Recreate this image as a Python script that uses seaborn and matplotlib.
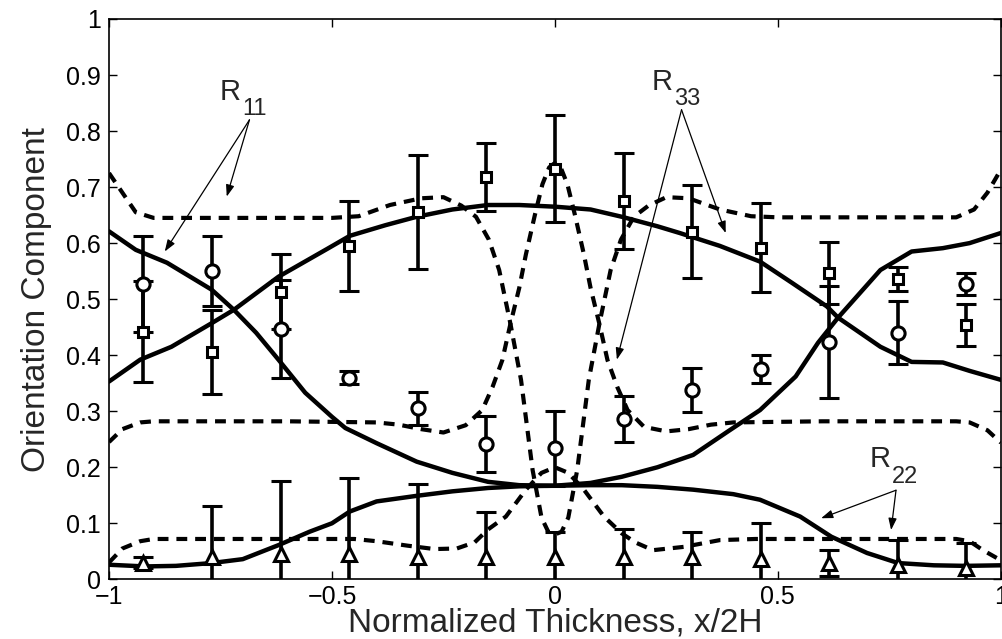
import matplotlib
matplotlib.use("Agg")
import matplotlib.pyplot as plt
import pandas as pd
import seaborn as sns

# measured data points (mean +- error)
x_data = [-0.923, -0.769, -0.615, -0.462, -0.308, -0.154, 0.0,
          0.154, 0.308, 0.462, 0.615, 0.769, 0.923]
r11_data = [0.527, 0.550, 0.447, 0.360, 0.305, 0.242, 0.234,
            0.286, 0.338, 0.375, 0.424, 0.440, 0.527]
r11_err = [0.085, 0.062, 0.087, 0.012, 0.030, 0.050, 0.067,
           0.041, 0.040, 0.025, 0.100, 0.056, 0.020]
r33_data = [0.442, 0.406, 0.513, 0.595, 0.655, 0.718, 0.733,
            0.675, 0.620, 0.592, 0.547, 0.536, 0.454]
r33_err = [0.090, 0.075, 0.067, 0.080, 0.102, 0.060, 0.095,
           0.085, 0.083, 0.080, 0.055, 0.022, 0.038]
r22_data = [0.030, 0.040, 0.045, 0.045, 0.040, 0.040, 0.040,
            0.040, 0.040, 0.036, 0.029, 0.025, 0.020]
r22_err = [0.010, 0.090, 0.130, 0.135, 0.130, 0.080, 0.045,
           0.050, 0.045, 0.065, 0.023, 0.045, 0.045]

# model 1 (solid)
solid_r11_x = [-1.0, -0.94, -0.87, -0.77, -0.72, -0.67, -0.62, -0.56, -0.5, -0.47,
               -0.4, -0.31, -0.23, -0.15, -0.08, 0.0, 0.08, 0.15, 0.23, 0.31,
               0.39, 0.46, 0.54, 0.59, 0.635, 0.73, 0.8, 0.87, 0.93, 1.0]
solid_r11_y = [0.621, 0.588, 0.565, 0.517, 0.481, 0.44, 0.392, 0.333, 0.29, 0.27,
               0.243, 0.21, 0.19, 0.174, 0.168, 0.167, 0.172, 0.183, 0.2, 0.222,
               0.265, 0.302, 0.362, 0.422, 0.467, 0.552, 0.585, 0.591, 0.6, 0.618]
solid_r33_x = [-1.0, -0.93, -0.86, -0.77, -0.72, -0.62, -0.51, -0.46, -0.38, -0.31,
               -0.23, -0.15, -0.08, 0.0, 0.08, 0.15, 0.23, 0.28, 0.37, 0.46,
               0.53, 0.61, 0.635, 0.73, 0.8, 0.87, 0.93, 1.0]
solid_r33_y = [0.353, 0.392, 0.415, 0.457, 0.481, 0.54, 0.59, 0.613, 0.632, 0.647,
               0.66, 0.668, 0.668, 0.665, 0.66, 0.647, 0.63, 0.618, 0.595, 0.567,
               0.53, 0.487, 0.467, 0.415, 0.388, 0.387, 0.372, 0.356]
solid_r22_x = [-1.0, -0.92, -0.85, -0.77, -0.7, -0.62, -0.55, -0.5, -0.46, -0.4,
               -0.31, -0.23, -0.15, -0.08, 0.0, 0.08, 0.15, 0.23, 0.31, 0.4,
               0.46, 0.55, 0.62, 0.7, 0.77, 0.85, 0.92, 1.0]
solid_r22_y = [0.026, 0.023, 0.024, 0.029, 0.036, 0.061, 0.085, 0.1, 0.121, 0.139,
               0.149, 0.157, 0.163, 0.166, 0.167, 0.168, 0.168, 0.165, 0.16, 0.152,
               0.142, 0.112, 0.076, 0.047, 0.029, 0.025, 0.024, 0.025]

# model 2 (dashed)
dash_r11_x = [-1.0, -0.97, -0.94, -0.9, -0.7, -0.5, -0.44, -0.37, -0.3, -0.25,
              -0.21, -0.177, -0.148, -0.125, -0.1, -0.076, -0.05, -0.03, -0.015, 0.0,
              0.015, 0.03, 0.05, 0.076, 0.1, 0.125, 0.148, 0.177, 0.21, 0.25,
              0.3, 0.37, 0.44, 0.5, 0.7, 0.9, 0.94, 0.97, 1.0]
dash_r11_y = [0.725, 0.69, 0.655, 0.645, 0.645, 0.645, 0.648, 0.668, 0.68, 0.682,
              0.667, 0.647, 0.606, 0.552, 0.457, 0.356, 0.195, 0.11, 0.085, 0.08,
              0.085, 0.11, 0.195, 0.356, 0.457, 0.552, 0.606, 0.647, 0.667, 0.682,
              0.68, 0.66, 0.648, 0.646, 0.646, 0.646, 0.66, 0.69, 0.731]
dash_r33_x = [-1.0, -0.97, -0.93, -0.9, -0.6, -0.4, -0.35, -0.3, -0.25, -0.2,
              -0.163, -0.14, -0.118, -0.1, -0.08, -0.065, -0.045, -0.028, -0.013, 0.0,
              0.013, 0.028, 0.045, 0.065, 0.08, 0.1, 0.118, 0.14, 0.163, 0.2,
              0.25, 0.3, 0.35, 0.4, 0.6, 0.9, 0.93, 0.97, 1.0]
dash_r33_y = [0.245, 0.268, 0.28, 0.282, 0.282, 0.28, 0.276, 0.268, 0.262, 0.275,
              0.302, 0.343, 0.391, 0.455, 0.52, 0.58, 0.65, 0.705, 0.735, 0.743,
              0.735, 0.705, 0.65, 0.58, 0.52, 0.455, 0.391, 0.343, 0.302, 0.272,
              0.264, 0.268, 0.276, 0.28, 0.282, 0.282, 0.28, 0.266, 0.244]
dash_r22_x = [-1.0, -0.97, -0.93, -0.9, -0.6, -0.45, -0.4, -0.33, -0.27, -0.22,
              -0.18, -0.15, -0.11, -0.065, -0.03, 0.0, 0.03, 0.065, 0.11, 0.15,
              0.18, 0.22, 0.29, 0.37, 0.45, 0.6, 0.9, 0.93, 0.96, 1.0]
dash_r22_y = [0.03, 0.055, 0.068, 0.072, 0.072, 0.072, 0.068, 0.06, 0.054, 0.055,
              0.066, 0.089, 0.112, 0.16, 0.19, 0.2, 0.19, 0.16, 0.112, 0.082,
              0.066, 0.052, 0.058, 0.07, 0.072, 0.072, 0.072, 0.068, 0.052, 0.034]

x_ticks = [-1, -0.5, 0, 0.5, 1]
x_tick_labels = ["\u22121", "\u22120.5", "0", "0.5", "1"]
y_ticks = [0, 0.1, 0.2, 0.3, 0.4, 0.5, 0.6, 0.7, 0.8, 0.9, 1.0]
y_tick_labels = ["0", "0.1", "0.2", "0.3", "0.4", "0.5", "0.6", "0.7", "0.8", "0.9", "1"]

sns.set_style("ticks")
plt.rcParams["font.family"] = ["Liberation Sans", "DejaVu Sans"]

fig = plt.figure(figsize=(10.02, 6.39), dpi=100)
ax = fig.add_axes([0.1088, 0.0934, 0.8900, 0.8769])

dash_style = (0, (2.6, 1.9))
for xs, ys in [(solid_r11_x, solid_r11_y), (solid_r33_x, solid_r33_y), (solid_r22_x, solid_r22_y)]:
    sns.lineplot(x=xs, y=ys, ax=ax, color="black", linewidth=3.2, sort=False)
for xs, ys in [(dash_r11_x, dash_r11_y), (dash_r33_x, dash_r33_y), (dash_r22_x, dash_r22_y)]:
    sns.lineplot(x=xs, y=ys, ax=ax, color="black", linewidth=3.0, linestyle=dash_style, sort=False)

err_kw = dict(linestyle="none", color="black", mfc="white", mec="black", mew=2.2,
              elinewidth=2.6, capsize=7, capthick=2.6, zorder=5)
ax.errorbar(x_data, r11_data, yerr=r11_err, fmt="o", markersize=9.5, **err_kw)
ax.errorbar(x_data, r33_data, yerr=r33_err, fmt="s", markersize=7.5, **err_kw)
ax.errorbar(x_data, r22_data, yerr=r22_err, fmt="^", markersize=9.5, **err_kw)

# labels with arrows
arrow_kw = dict(arrowstyle="-|>,head_length=0.7,head_width=0.25", color="black", lw=0.9,
                shrinkA=0, shrinkB=0)
labels = [
    ("11", (-0.752, 0.856), (-0.685, 0.820), [(-0.875, 0.585), (-0.736, 0.683)]),
    ("33", (0.217, 0.874), (0.284, 0.838), [(0.383, 0.618), (0.139, 0.392)]),
    ("22", (0.705, 0.200), (0.765, 0.159), [(0.597, 0.109), (0.754, 0.088)]),
]
for sub, pos, tail, heads in labels:
    ax.text(pos[0], pos[1], "R", fontsize=21, ha="left", va="baseline")
    ax.annotate(sub, xy=pos, xytext=(16, -11), textcoords="offset points",
                fontsize=17, ha="left", va="baseline")
    for head in heads:
        ax.annotate("", xy=head, xytext=tail, arrowprops=arrow_kw)

ax.set_xlim(-1, 1)
ax.set_ylim(0, 1)
ax.set_xticks(x_ticks)
ax.set_xticklabels(x_tick_labels)
ax.set_yticks(y_ticks)
ax.set_yticklabels(y_tick_labels)
ax.tick_params(direction="in", length=6, width=1, labelsize=18, pad=6,
               top=True, right=True, colors="black")
ax.tick_params(axis="x", pad=4)
for spine in ax.spines.values():
    spine.set_visible(True)
    spine.set_linewidth(1.2)
    spine.set_color("black")

ax.set_xlabel("Normalized Thickness, x/2H", fontsize=24, labelpad=-1)
ax.set_ylabel("Orientation Component", fontsize=24, labelpad=10)

fig.savefig("out.png", dpi=100)
